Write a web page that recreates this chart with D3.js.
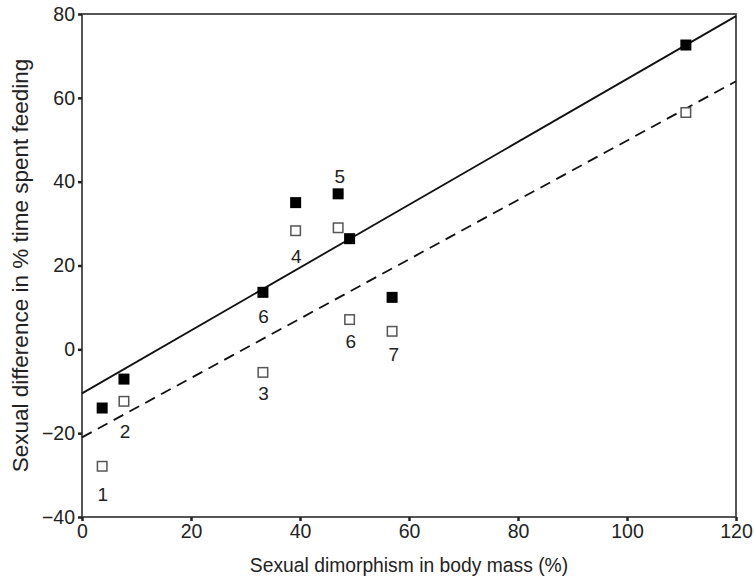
<!DOCTYPE html>
<html>
<head>
<meta charset="utf-8">
<script src="https://cdn.jsdelivr.net/npm/d3@7"></script>
<style>
  body { margin: 0; background: #fff; }
  text { font-family: "Liberation Sans", Arial, sans-serif; fill: #222; }
</style>
</head>
<body>
<svg id="chart" width="754" height="582"></svg>
<script>
// body mass dimorphism (%) for each species
var massX = [3.7, 7.7, 33.2, 39.2, 47.0, 49.1, 56.9, 110.8];
// sexual difference in feeding time, filled and open markers
var filledY = [-14.0, -7.1, 13.6, 35.0, 37.1, 26.4, 12.4, 72.6];
var openY = [-27.9, -12.4, -5.5, 28.3, 29.0, 7.1, 4.3, 56.5];

// regression lines: [intercept, slope]
var solidFit = [-10.5, 0.75];
var dashedFit = [-21.0, 0.708];

// species number labels (data coords)
var labelText = ["1", "2", "3", "4", "5", "6", "6", "7"];
var labelX = [3.8, 7.9, 33.3, 39.3, 47.3, 33.3, 49.3, 57.2];
var labelY = [-34.6, -19.6, -10.6, 22.1, 41.2, 7.8, 1.9, -1.1];

var xTicks = [0, 20, 40, 60, 80, 100, 120];
var yTicks = [-40, -20, 0, 20, 40, 60, 80];

var svg = d3.select("#chart");
var margin = {left: 82, right: 18, top: 14, bottom: 65};
var w = 754 - margin.left - margin.right,
    h = 582 - margin.top - margin.bottom;

var x = d3.scaleLinear().domain([0, 120]).range([0, w]);
var y = d3.scaleLinear().domain([-40, 80]).range([h, 0]);

var g = svg.append("g")
    .attr("transform", "translate(" + margin.left + "," + margin.top + ")");

// frame
g.append("rect")
    .attr("width", w).attr("height", h)
    .attr("fill", "none").attr("stroke", "#444").attr("stroke-width", 1.8);

var xAxis = g.append("g")
    .attr("transform", "translate(0," + h + ")")
    .call(d3.axisBottom(x).tickValues(xTicks).tickSize(4).tickPadding(3));
var yAxis = g.append("g")
    .call(d3.axisLeft(y).tickValues(yTicks).tickSize(4).tickPadding(3)
        .tickFormat(function(d) { return d < 0 ? "\u2212" + (-d) : d; }));

[xAxis, yAxis].forEach(function(a) {
    a.select(".domain").remove();
    a.selectAll(".tick line").attr("stroke", "#222").attr("stroke-width", 2.5);
    a.selectAll(".tick text").style("font-size", "19.5px").attr("fill", "#222");
});

// fitted lines
function fitLine(fit) {
    return [[0, fit[0]], [120, fit[0] + fit[1] * 120]];
}
var line = d3.line()
    .x(function(d) { return x(d[0]); })
    .y(function(d) { return y(d[1]); });

g.append("path")
    .attr("d", line(fitLine(solidFit)))
    .attr("fill", "none").attr("stroke", "#111").attr("stroke-width", 1.8);
g.append("path")
    .attr("d", line(fitLine(dashedFit)))
    .attr("fill", "none").attr("stroke", "#111").attr("stroke-width", 1.8)
    .attr("stroke-dasharray", "11,7");

var size = 11;
g.selectAll("rect.open")
    .data(massX)
    .enter().append("rect")
    .classed("open", true)
    .attr("x", function(d) { return x(d) - size / 2 + 0.75; })
    .attr("y", function(d, i) { return y(openY[i]) - size / 2 + 0.75; })
    .attr("width", size - 1.5).attr("height", size - 1.5)
    .attr("fill", "#fff").attr("stroke", "#555").attr("stroke-width", 1.5);

g.selectAll("rect.filled")
    .data(massX)
    .enter().append("rect")
    .classed("filled", true)
    .attr("x", function(d) { return x(d) - size / 2; })
    .attr("y", function(d, i) { return y(filledY[i]) - size / 2; })
    .attr("width", size).attr("height", size)
    .attr("fill", "#000");

g.selectAll("text.lab")
    .data(labelText)
    .enter().append("text")
    .classed("lab", true)
    .attr("x", function(d, i) { return x(labelX[i]); })
    .attr("y", function(d, i) { return y(labelY[i]); })
    .attr("text-anchor", "middle")
    .attr("dy", "0.35em")
    .style("font-size", "19px")
    .text(function(d) { return d; });

// axis titles
svg.append("text")
    .attr("x", margin.left + w / 2)
    .attr("y", 572)
    .attr("text-anchor", "middle")
    .style("font-size", "19.3px")
    .text("Sexual dimorphism in body mass (%)");
svg.append("text")
    .attr("transform", "translate(28," + (margin.top + h / 2) + ") rotate(-90)")
    .attr("text-anchor", "middle")
    .style("font-size", "22.5px")
    .text("Sexual difference in % time spent feeding");
</script>
</body>
</html>
